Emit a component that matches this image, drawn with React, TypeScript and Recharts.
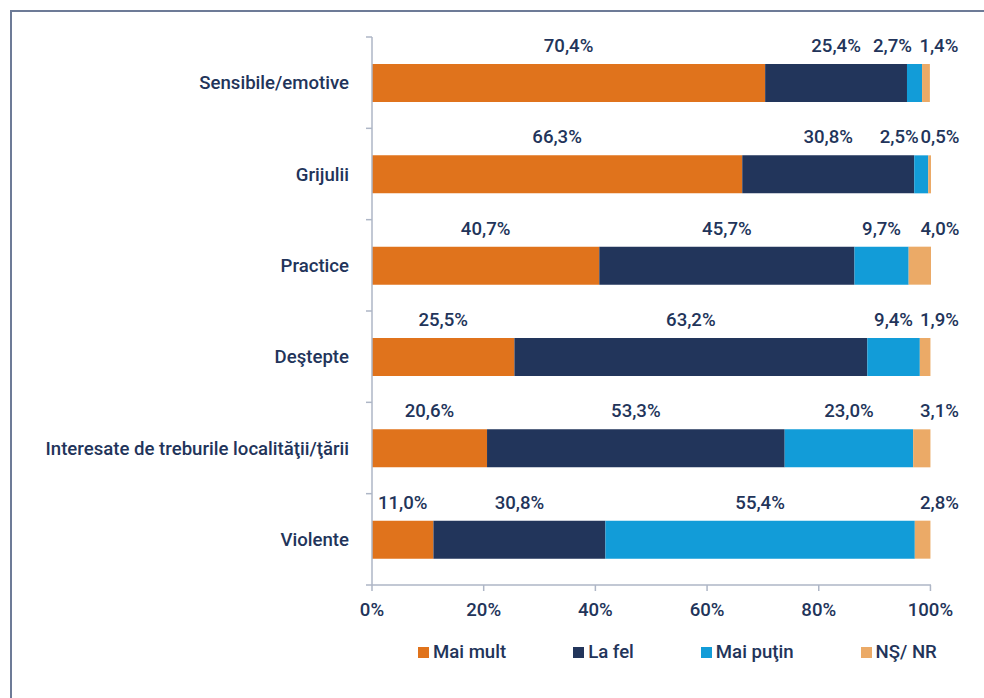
import React from 'react';
import { BarChart, Bar, XAxis, YAxis, Legend, LabelList } from 'recharts';

// ---------------------------------------------------------------------------
// Data
// ---------------------------------------------------------------------------

const categories = [
  'Sensibile/emotive',
  'Grijulii',
  'Practice',
  'Deştepte',
  'Interesate de treburile localităţii/ţării',
  'Violente',
];

const maiMult = [70.4, 66.3, 40.7, 25.5, 20.6, 11.0];
const laFel = [25.4, 30.8, 45.7, 63.2, 53.3, 30.8];
const maiPutin = [2.7, 2.5, 9.7, 9.4, 23.0, 55.4];
const nsNr = [1.4, 0.5, 4.0, 1.9, 3.1, 2.8];

const xTicks = [0, 20, 40, 60, 80, 100];

const series = [
  { key: 'maiMult', label: 'Mai mult', color: '#e0731c' },
  { key: 'laFel', label: 'La fel', color: '#22355b' },
  { key: 'maiPutin', label: 'Mai puţin', color: '#129cd8' },
  { key: 'nsNr', label: 'NŞ/ NR', color: '#ebaa67' },
];

const data = categories.map((name, i) => ({
  name,
  maiMult: maiMult[i],
  laFel: laFel[i],
  maiPutin: maiPutin[i],
  nsNr: nsNr[i],
}));

// ---------------------------------------------------------------------------
// Layout / style
// ---------------------------------------------------------------------------

const W = 984;
const H = 698;
const PLOT_TOP = 37;
const PLOT_BOTTOM = 585;
const BAND = (PLOT_BOTTOM - PLOT_TOP) / categories.length;
const TEXT = '#22345a';
const AXIS = '#aeb6c6';
const FONT = 'Roboto, "Noto Sans", sans-serif';
const FS = 18.6;

const fmt = (v: number) => v.toFixed(1).replace('.', ',') + '%';

function CategoryTick(props: any) {
  const { x, y, payload, index } = props;
  const top = y - BAND / 2;
  return (
    <g>
      <line x1={x - 6} x2={x} y1={top} y2={top} stroke={AXIS} strokeWidth={1.5} />
      {index === categories.length - 1 && (
        <line x1={x - 6} x2={x} y1={y + BAND / 2} y2={y + BAND / 2} stroke={AXIS} strokeWidth={1.5} />
      )}
      <text
        x={x - 23}
        y={y}
        dy="0.35em"
        textAnchor="end"
        fill={TEXT}
        fontSize={FS}
        fontWeight={500}
        fontFamily={FONT}
      >
        {payload.value}
      </text>
    </g>
  );
}

// labels sit above each segment; small tail segments get nudged apart
function makeLabel(seriesKey: string) {
  return (props: any) => {
    const { x, y, width, value } = props;
    let cx = x + width / 2;
    if (seriesKey === 'nsNr') cx = Math.max(cx, x + width + 9);
    if (seriesKey === 'maiPutin' && value < 5) cx -= 22;
    return (
      <text
        x={cx}
        y={y - 12}
        textAnchor="middle"
        fill={TEXT}
        fontSize={FS}
        fontWeight={500}
        fontFamily={FONT}
      >
        {fmt(value)}
      </text>
    );
  };
}

function ChartLegend() {
  return (
    <div style={{ display: 'flex', gap: 67, alignItems: 'center', fontFamily: FONT, paddingTop: 16 }}>
      {series.map((s) => (
        <div key={s.key} style={{ display: 'flex', alignItems: 'center', gap: 4 }}>
          <span style={{ width: 11, height: 11, background: s.color, display: 'inline-block' }} />
          <span style={{ fontSize: FS, fontWeight: 500, color: TEXT }}>{s.label}</span>
        </div>
      ))}
    </div>
  );
}

export default function App() {
  return (
    <div style={{ position: 'absolute', left: 0, top: 0, width: W, height: H, overflow: 'hidden', background: '#fff' }}>
      <div
        style={{
          position: 'absolute',
          left: 10,
          top: 10,
          width: 1000,
          height: 720,
          borderTop: '2px solid #6d7b97',
          borderLeft: '2px solid #6d7b97',
        }}
      />
      <div style={{ position: 'absolute', left: 0, top: 0 }}>
        <BarChart
          width={W}
          height={H}
          data={data}
          layout="vertical"
          margin={{ top: PLOT_TOP, right: W - 931, bottom: 33, left: 0 }}
        >
          <XAxis
            type="number"
            domain={[0, 100]}
            ticks={xTicks}
            tickFormatter={(v: number) => `${v}%`}
            height={40}
            tickSize={6}
            tickMargin={12}
            stroke={AXIS}
            axisLine={{ stroke: AXIS, strokeWidth: 1.5 }}
            tickLine={{ stroke: AXIS, strokeWidth: 1.5 }}
            tick={{ fill: TEXT, fontSize: FS, fontWeight: 500, fontFamily: FONT }}
            interval={0}
          />
          <YAxis
            type="category"
            dataKey="name"
            width={372}
            tickSize={0}
            tickMargin={0}
            tickLine={false}
            axisLine={{ stroke: AXIS, strokeWidth: 1.5 }}
            tick={<CategoryTick />}
            interval={0}
          />
          <Legend
            verticalAlign="bottom"
            height={40}
            content={<ChartLegend />}
            wrapperStyle={{ left: 418, width: 560 }}
          />
          {series.map((s) => (
            <Bar
              key={s.key}
              dataKey={s.key}
              name={s.label}
              stackId="a"
              fill={s.color}
              barSize={38}
              isAnimationActive={false}
            >
              <LabelList dataKey={s.key} content={makeLabel(s.key)} />
            </Bar>
          ))}
        </BarChart>
      </div>
    </div>
  );
}
